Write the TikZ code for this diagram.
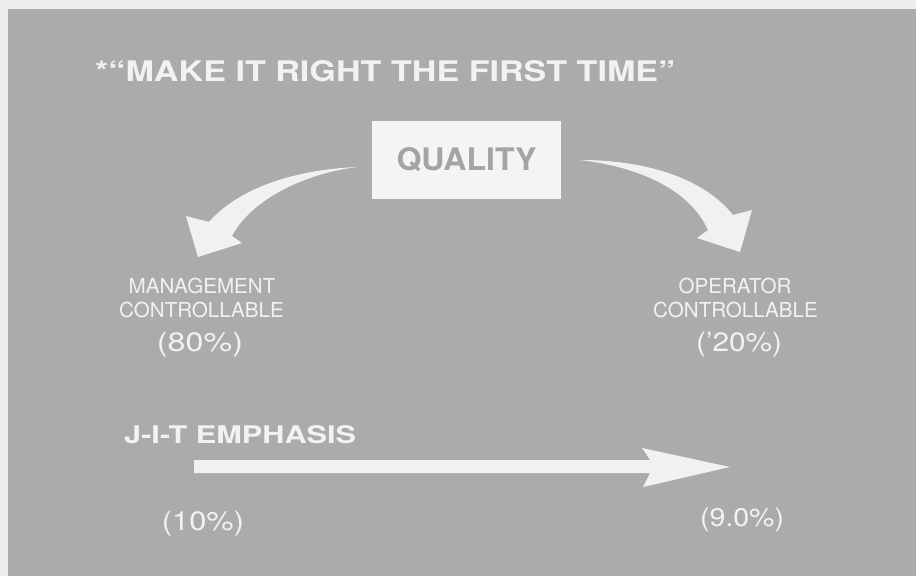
\documentclass[tikz,border=0pt]{standalone}
\usepackage{fontspec}
\setmainfont{TeX Gyre Heros}
\usepackage{graphicx}
\definecolor{edgec}{HTML}{EDEDED}
\definecolor{bgc}{HTML}{ABABAB}
\definecolor{boxc}{HTML}{F4F4F4}
\definecolor{qtxt}{HTML}{A4A4A4}
\definecolor{txtc}{HTML}{F2F2F2}
\definecolor{arrowc}{HTML}{F1F1F1}
\newcommand\lblfont{\fontsize{20.6pt}{22pt}\selectfont}
\tikzset{
  lbl/.style={inner sep=0pt, text=txtc, font=\lblfont},
  qbox/.style={fill=boxc, inner sep=0pt, minimum width=189pt, minimum height=78pt, text=qtxt},
  fatarrow/.style={fill=arrowc}
}
\begin{document}
\begin{tikzpicture}[x=1pt,y=-1pt]
\useasboundingbox (0,0) rectangle (916,576);
\fill[edgec] (0,0) rectangle (916,576);
\fill[bgc] (8,9) rectangle (916,576);

% title
\node[lbl, anchor=base west] (title) at (95,81)
  {\resizebox{580pt}{21pt}{\bfseries *\textquotedblleft MAKE IT RIGHT THE FIRST TIME\textquotedblright}};

% quality box
\node[qbox] (quality) at (466.5,160) {\resizebox{140pt}{23pt}{\bfseries QUALITY}};

% curved arrows
\coordinate (lT) at (357,167);
\coordinate (rT) at (580,160);
\fill[fatarrow] (lT) .. controls (290,170) and (237,190) .. (209,222)
  -- (186,216) -- (198,257) -- (242,243) -- (232,236)
  .. controls (248,205) and (295,175) .. (lT) -- cycle;
\fill[fatarrow] (rT) .. controls (650,160) and (705,180) .. (733,215)
  -- (752,210) -- (740,252) -- (697,238) -- (708,230)
  .. controls (690,190) and (640,167) .. (rT) -- cycle;

% left labels
\node[lbl, anchor=base] (mgmt) at (202,293) {MANAGEMENT};
\node[lbl, anchor=base] (ctrlL) at (201.5,317) {CONTROLLABLE};
\node[lbl] (pctL) at (200,344.5) {\resizebox*{86pt}{25pt}{(80\%)}};

% right labels
\node[lbl, anchor=base] (oper) at (735,293) {OPERATOR};
\node[lbl, anchor=base] (ctrlR) at (735.5,317) {CONTROLLABLE};
\node[lbl] (pctR) at (739,344.5) {\resizebox*{86pt}{25pt}{(\textquoteright20\%)}};

% JIT
\node[lbl, anchor=base west] (jit) at (124,443) {\resizebox{232pt}{18pt}{\bfseries J-I-T EMPHASIS}};
\coordinate (jS) at (194,466.5);
\coordinate (jE) at (730,467);
\fill[fatarrow] (jS |- 0,460) -- (650,460) -- (642,448) -- (jE) -- (643,487) -- (650,473) -- (jS |- 0,473) -- cycle;

\node[lbl] (pctA) at (203,524) {\resizebox*{82pt}{25pt}{(10\%)}};
\node[lbl] (pctB) at (742,520) {\resizebox*{84pt}{24pt}{(9.0\%)}};
\end{tikzpicture}
\end{document}
